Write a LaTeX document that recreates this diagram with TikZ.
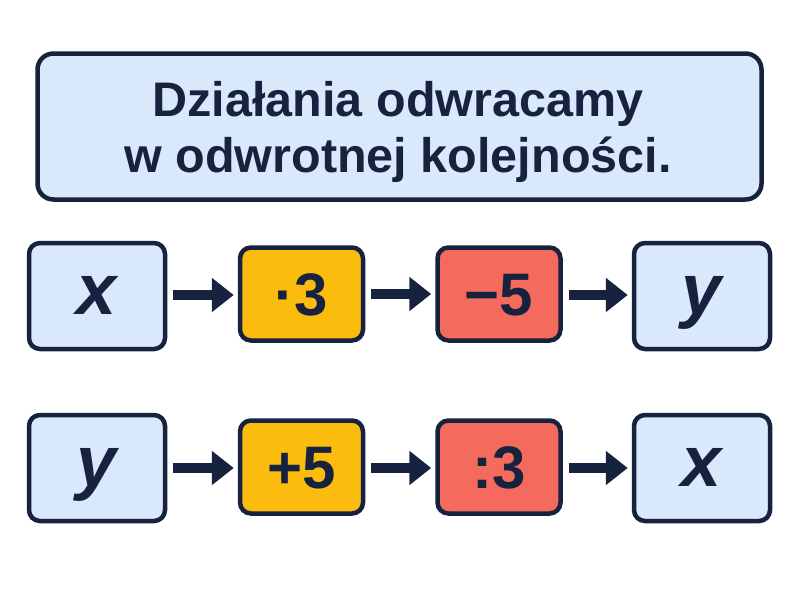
\documentclass[tikz,border=0pt]{standalone}
\usepackage{fontspec}
\setmainfont{Liberation Sans}
\usetikzlibrary{arrows.meta}
\definecolor{navy}{HTML}{17223F}
\definecolor{lightblue}{HTML}{D9E8FA}
\definecolor{gold}{HTML}{FBBC0E}
\definecolor{coral}{HTML}{F46A5C}
\tikzset{
  box/.style={draw=navy, line width=4.5pt, rounded corners=11pt, inner sep=0pt, text=navy},
  varbox/.style={box, fill=lightblue, minimum width=136pt, minimum height=106pt, text height=37pt, text depth=0pt, font=\fontsize{72}{72}\selectfont\bfseries\itshape},
  opbox/.style={box, minimum width=123pt, minimum height=93pt, text height=43pt, text depth=0pt, font=\fontsize{60}{60}\selectfont\bfseries},
  titlebox/.style={box, fill=lightblue, rounded corners=16pt, minimum width=724pt, minimum height=146pt},
  conn/.style={draw=navy, line width=10pt, -{Triangle[length=22pt, width=33pt]}, shorten <=6pt, shorten >=4pt}
}
\begin{document}
\begin{tikzpicture}[x=1pt,y=-1pt]
\useasboundingbox[fill=white] (0,0) rectangle (800,600);
\node[titlebox] (title) at (399.5,126.5) {};
\node[text=navy, align=center, font=\fontsize{48.5}{56}\selectfont\bfseries] (ttext) at (398,132) {Działania odwracamy\\w odwrotnej kolejności.};
% row 1
\node[varbox] (x1) at (97,296) {x};
\node[opbox, fill=gold] (m1) at (301.5,294) {·3};
\node[opbox, fill=coral] (s1) at (499,294) {−5};
\node[varbox] (y1) at (702,296) {y};
% row 2
\node[varbox] (y2) at (97,468) {y};
\node[opbox, fill=gold] (p2) at (301.5,467) {+5};
\node[opbox, fill=coral] (d2) at (499,467) {:3};
\node[varbox] (x2) at (702,468) {x};
\draw[conn] (x1.east |- 0,295) -- (m1.west |- 0,295);
\draw[conn] (m1) -- (s1);
\draw[conn] (s1.east |- 0,295) -- (y1.west |- 0,295);
\draw[conn] (y2.east |- 0,468) -- (p2.west |- 0,468);
\draw[conn] (p2.east |- 0,468) -- (d2.west |- 0,468);
\draw[conn] (d2.east |- 0,468) -- (x2.west |- 0,468);
\end{tikzpicture}
\end{document}
